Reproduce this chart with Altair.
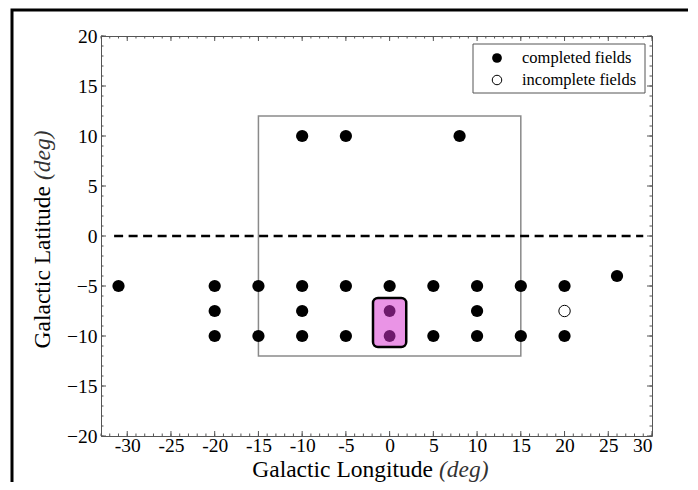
import altair as alt
import pandas as pd

# ---------------- data ----------------
completed_lon = [-31, -20, -15, -10, -5, 0, 5, 10, 15, 20,
                 -20, -10, 10,
                 -20, -15, -10, -5, 5, 10, 15, 20,
                 -10, -5, 8,
                 26]
completed_lat = [-5, -5, -5, -5, -5, -5, -5, -5, -5, -5,
                 -7.5, -7.5, -7.5,
                 -10, -10, -10, -10, -10, -10, -10, -10,
                 10, 10, 10,
                 -4]
incomplete_lon = [20]
incomplete_lat = [-7.5]
highlight_lon = [0, 0]
highlight_lat = [-7.5, -10]
highlight_box_lon = [-1.9, 1.9]
highlight_box_lat = [-6.2, -11.1]
survey_lon = [-15, 15]
survey_lat = [-12, 12]
plane_lon = [-31.5, 29]
plane_lat = [0, 0]
x_major = [-30, -25, -20, -15, -10, -5, 0, 5, 10, 15, 20, 25, 30]
x_minor = list(range(-33, 31))
y_major = [-20, -15, -10, -5, 0, 5, 10, 15, 20]
y_minor = list(range(-20, 21))
legend_labels = ["completed fields", "incomplete fields"]
x_title_parts = ["Galactic Longitude", "(deg)"]
y_title_parts = ["Galactic Latitude", "(deg)"]

# ---------------- layout ----------------
W, H = 551, 400
FONT = "Liberation Serif"
SPINE = "#555555"
TFS = 23.5

xscale = alt.Scale(domain=[-33, 30], nice=False, zero=False)
yscale = alt.Scale(domain=[-20, 20], nice=False, zero=False)
xaxis = alt.Axis(values=x_major, title=None, labelPadding=0,
                 labelExpr="datum.value < 0 ? '-' + abs(datum.value) : '' + datum.value")
yaxis = alt.Axis(values=y_major, title=None, labelPadding=4)


def X(f):
    return alt.X(f, type="quantitative", scale=xscale, axis=xaxis)


def Y(f):
    return alt.Y(f, type="quantitative", scale=yscale, axis=yaxis)


survey_df = pd.DataFrame({"lon": [survey_lon[0]], "lon2": [survey_lon[1]],
                          "lat": [survey_lat[0]], "lat2": [survey_lat[1]]})
survey = alt.Chart(survey_df).mark_rect(fillOpacity=0, stroke="#8a8a8a", strokeWidth=1.5).encode(
    x=X("lon"), x2=alt.X2("lon2"), y=Y("lat"), y2=alt.Y2("lat2"))

plane = alt.Chart(pd.DataFrame({"lon": plane_lon, "lat": plane_lat})).mark_line(
    color="black", strokeWidth=2.5, strokeDash=[9, 5.5], strokeCap="butt").encode(
    x=X("lon"), y=Y("lat"))

completed = alt.Chart(pd.DataFrame({"lon": completed_lon, "lat": completed_lat})).mark_circle(
    size=150, color="black", opacity=1).encode(x=X("lon"), y=Y("lat"))

incomplete = alt.Chart(pd.DataFrame({"lon": incomplete_lon, "lat": incomplete_lat})).mark_point(
    shape="circle", filled=False, size=130, stroke="black", strokeWidth=1, fill="white",
    fillOpacity=1, opacity=1).encode(x=X("lon"), y=Y("lat"))

hbox_df = pd.DataFrame({"lon": [highlight_box_lon[0]], "lon2": [highlight_box_lon[1]],
                        "lat": [highlight_box_lat[0]], "lat2": [highlight_box_lat[1]]})
hbox = alt.Chart(hbox_df).mark_rect(cornerRadius=5, fill="#ea94e6", stroke="black",
                                    strokeWidth=2.5).encode(
    x=X("lon"), x2=alt.X2("lon2"), y=Y("lat"), y2=alt.Y2("lat2"))

hpts = alt.Chart(pd.DataFrame({"lon": highlight_lon, "lat": highlight_lat})).mark_circle(
    size=140, color="#6e1a6c", opacity=1).encode(x=X("lon"), y=Y("lat"))


# inward ticks on all four sides
def xticks(vals, y0, y1):
    return alt.Chart(pd.DataFrame({"v": vals})).mark_rule(color=SPINE, strokeWidth=1).encode(
        x=X("v"), y=alt.value(y0), y2=alt.value(y1))


def yticks(vals, x0, x1):
    return alt.Chart(pd.DataFrame({"v": vals})).mark_rule(color=SPINE, strokeWidth=1).encode(
        y=Y("v"), x=alt.value(x0), x2=alt.value(x1))


MAJ, MIN = 5, 2.5
ticks = [
    xticks(x_major, H, H - MAJ), xticks(x_minor, H, H - MIN),
    xticks(x_major, 0, MAJ), xticks(x_minor, 0, MIN),
    yticks(y_major, 0, MAJ), yticks(y_minor, 0, MIN),
    yticks(y_major, W, W - MAJ), yticks(y_minor, W, W - MIN),
]

# legend
one = pd.DataFrame({"a": [0]})
leg_box = alt.Chart(one).mark_rect(fillOpacity=1, fill="white", stroke=SPINE, strokeWidth=1).encode(
    x=alt.value(372), x2=alt.value(544), y=alt.value(8), y2=alt.value(57))
leg_p1 = alt.Chart(one).mark_circle(size=95, color="black", opacity=1).encode(
    x=alt.value(396), y=alt.value(22))
leg_p2 = alt.Chart(one).mark_point(shape="circle", filled=False, size=90, stroke="black",
                                   strokeWidth=1, opacity=1).encode(
    x=alt.value(396), y=alt.value(44))
leg_t1 = alt.Chart(pd.DataFrame({"t": [legend_labels[0]]})).mark_text(
    font=FONT, fontSize=16.5, align="left", baseline="middle", color="black").encode(
    text="t:N", x=alt.value(421), y=alt.value(22))
leg_t2 = alt.Chart(pd.DataFrame({"t": [legend_labels[1]]})).mark_text(
    font=FONT, fontSize=16.5, align="left", baseline="middle", color="black").encode(
    text="t:N", x=alt.value(421), y=alt.value(44))

# axis titles (mixed upright / italic)
xt1 = alt.Chart(pd.DataFrame({"t": [x_title_parts[0]]})).mark_text(
    font=FONT, fontSize=TFS, align="right", baseline="alphabetic", color="black").encode(
    text="t:N", x=alt.value(332), y=alt.value(441))
xt2 = alt.Chart(pd.DataFrame({"t": [x_title_parts[1]]})).mark_text(
    font=FONT, fontSize=TFS, fontStyle="italic", align="left", baseline="alphabetic",
    color="#333333").encode(text="t:N", x=alt.value(338), y=alt.value(441))
yt1 = alt.Chart(pd.DataFrame({"t": [y_title_parts[0]]})).mark_text(
    font=FONT, fontSize=TFS, align="right", baseline="middle", angle=270, color="black").encode(
    text="t:N", x=alt.value(-58), y=alt.value(150))
yt2 = alt.Chart(pd.DataFrame({"t": [y_title_parts[1]]})).mark_text(
    font=FONT, fontSize=TFS, fontStyle="italic", align="left", baseline="middle", angle=270,
    color="#333333").encode(text="t:N", x=alt.value(-58), y=alt.value(144))

# outer figure frame
frame = alt.Chart(one).mark_rect(fillOpacity=0, stroke="black", strokeWidth=3).encode(
    x=alt.value(-89), x2=alt.value(800), y=alt.value(-26), y2=alt.value(800))

chart = alt.layer(
    survey, plane, completed, incomplete, hbox, hpts, *ticks,
    leg_box, leg_p1, leg_p2, leg_t1, leg_t2, xt1, xt2, yt1, yt2, frame
).properties(
    width=W, height=H,
    autosize=alt.AutoSizeParams(type="none"),
    padding={"left": 93, "top": 28, "right": 36, "bottom": 46},
).configure_view(
    stroke=SPINE, strokeWidth=1
).configure_axis(
    grid=False, domain=False, ticks=False, labelFont=FONT, labelFontSize=19.5,
    labelColor="black"
)

chart.save("out.html", embed_options={"renderer": "svg", "actions": False})
